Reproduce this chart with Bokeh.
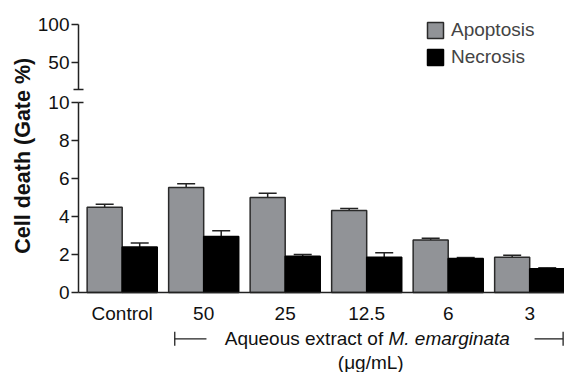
import numpy as np
from math import pi
from bokeh.plotting import figure
from bokeh.models import (ColumnDataSource, FixedTicker, Range1d, Whisker, Label,
                          Legend, LegendItem, Arrow, TeeHead, LinearAxis)
from bokeh.embed import file_html
from bokeh.resources import INLINE

categories = ["Control", "50", "25", "12.5", "6", "3"]
apoptosis = [4.49, 5.53, 5.00, 4.32, 2.77, 1.86]
apoptosis_err = [0.16, 0.19, 0.23, 0.10, 0.09, 0.10]
necrosis = [2.40, 2.95, 1.91, 1.86, 1.79, 1.25]
necrosis_err = [0.21, 0.30, 0.09, 0.23, 0.05, 0.05]
lower_ticks = [0, 2, 4, 6, 8, 10]
upper_ticks = [50, 100]

FONT = "Liberation Sans"
FS = "19px"
BAR_W = 0.43
AX_X = -0.536          # x position of the y axes (data units)
X_END = 5.427
idx = np.arange(len(categories))

src_a = ColumnDataSource(dict(x=idx - BAR_W / 2, top=apoptosis,
                              up=np.array(apoptosis) + np.array(apoptosis_err)))
src_n = ColumnDataSource(dict(x=idx + BAR_W / 2, top=necrosis,
                              up=np.array(necrosis) + np.array(necrosis_err)))

p = figure(width=564, height=372, x_range=Range1d(-1.493, X_END),
           y_range=Range1d(-4.21, 15.37),
           output_backend="svg", toolbar_location=None,
           x_axis_location=None, y_axis_location=None,
           min_border_left=0, min_border_right=0, min_border_top=0, min_border_bottom=0)
p.extra_y_ranges = {"upper": Range1d(-361.6, 131.8)}
p.grid.visible = False
p.outline_line_color = None


def style_yaxis(ax):
    ax.axis_line_width = 1.5
    ax.axis_line_color = "#222222"
    ax.major_tick_line_width = 1.5
    ax.major_tick_line_color = "#222222"
    ax.minor_tick_line_width = 1.5
    ax.minor_tick_line_color = "#222222"
    ax.major_tick_out = 7
    ax.major_tick_in = 0
    ax.major_label_standoff = 2
    ax.major_label_text_font = FONT
    ax.major_label_text_font_size = FS
    ax.major_label_text_color = "#111111"


# lower y axis (0-10)
ya = LinearAxis(fixed_location=AX_X, bounds=(0, 10),
                ticker=FixedTicker(ticks=lower_ticks, minor_ticks=[10]))
style_yaxis(ya)
ya.minor_tick_in = 5
ya.minor_tick_out = 0
p.add_layout(ya, "left")

# upper y axis (broken segment)
yu = LinearAxis(fixed_location=AX_X, bounds=(14, 100), y_range_name="upper",
                ticker=FixedTicker(ticks=upper_ticks, minor_ticks=[14]))
style_yaxis(yu)
yu.minor_tick_in = 5
yu.minor_tick_out = 5
p.add_layout(yu, "left")

# x axis
xa = LinearAxis(fixed_location=0, bounds=(AX_X, X_END),
                ticker=FixedTicker(ticks=list(idx)))
xa.major_label_overrides = {int(i): c for i, c in zip(idx, categories)}
xa.major_tick_out = 0
xa.major_tick_in = 0
xa.axis_line_width = 1.5
xa.axis_line_color = "#222222"
xa.major_label_standoff = 10
xa.major_label_text_font = FONT
xa.major_label_text_font_size = FS
xa.major_label_text_color = "#111111"
p.add_layout(xa, "below")

ra = p.vbar(x="x", top="top", bottom=0, width=BAR_W, source=src_a,
            fill_color="#919397", line_color="#2a2a2a", line_width=1.5)
rn = p.vbar(x="x", top="top", bottom=0, width=BAR_W, source=src_n,
            fill_color="black", line_color="black", line_width=1.5)

for src in (src_a, src_n):
    p.add_layout(Whisker(source=src, base="x", upper="up", lower="top",
                         dimension="height", line_width=1.5, line_color="#222222",
                         upper_head=TeeHead(size=18, line_width=1.5, line_color="#222222"),
                         lower_head=None, level="underlay"))

legend = Legend(items=[LegendItem(label="Apoptosis", renderers=[ra]),
                       LegendItem(label="Necrosis", renderers=[rn])],
                location=(425, 304), padding=0, spacing=5, margin=0,
                glyph_width=20, glyph_height=20, label_standoff=6,
                label_text_font=FONT, label_text_font_size=FS,
                label_height=20, border_line_color=None, background_fill_alpha=0)
p.add_layout(legend)

# y axis title spanning both segments
p.add_layout(Label(x=-1.22, y=7.2, text="Cell death (Gate %)", angle=pi / 2,
                   text_align="center", text_baseline="middle",
                   text_font=FONT, text_font_style="bold", text_font_size="21.5px",
                   text_color="#111111"))

# extract caption
cap_y = -2.44
p.add_layout(Label(x=3.267, y=cap_y, text="Aqueous extract of ", text_align="right",
                   text_baseline="middle", text_font=FONT, text_font_size=FS,
                   text_color="#111111"))
p.add_layout(Label(x=3.267, y=cap_y, text="M. emarginata", text_align="left",
                   text_baseline="middle", text_font=FONT, text_font_size=FS,
                   text_font_style="italic", text_color="#111111"))
p.add_layout(Label(x=3.05, y=-3.66, text="(μg/mL)", text_align="center",
                   text_baseline="middle", text_font=FONT, text_font_size=FS,
                   text_color="#111111"))
p.add_layout(Arrow(x_start=0.645, y_start=cap_y, x_end=1.034, y_end=cap_y,
                   start=TeeHead(size=14, line_width=1.3, line_color="#222222"), end=None,
                   line_width=1.3, line_color="#222222"))
p.add_layout(Arrow(x_start=5.06, y_start=cap_y, x_end=5.41, y_end=cap_y,
                   end=TeeHead(size=14, line_width=1.3, line_color="#222222"), start=None,
                   line_width=1.3, line_color="#222222"))

open("out.html", "w").write(file_html(p, INLINE))
